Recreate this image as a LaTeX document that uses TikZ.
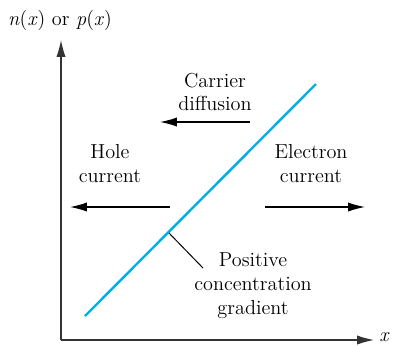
\documentclass[tikz,border=0pt]{standalone}
\usetikzlibrary{arrows.meta}
\definecolor{linecyan}{RGB}{0,175,230}

\begin{document}
\begin{tikzpicture}[x=0.025cm, y=-0.025cm,
          txt/.style={align=center, font=\fontsize{14.4}{17}\selectfont},
          arr/.style={-{Latex[length=12pt, width=6.5pt]}, line width=0.85pt},
        ]
          \useasboundingbox (0,0) rectangle (394,345);
          % axes
          \coordinate (o) at (61,340);
          \coordinate (ytop) at (61,40);
          \coordinate (xend) at (374,340);
          \draw[arr, black!80] (o)--(ytop);
          \draw[arr, black!80] (o)--(xend);
          \node[txt, anchor=west, inner sep=0pt] (xl) at (379,337) {\textit{x}};
          \node[txt] (yl) at (60,20) {\textit{n}(\textit{x}) or \textit{p}(\textit{x})};
          % concentration line
          \coordinate (lo) at (85,316);
          \coordinate (hi) at (316,84);
          \draw[linecyan, line width=1.7pt] (lo)--(hi);
          % currents
          \node[txt] (cd) at (215,92) {Carrier\\diffusion};
          \coordinate (cda) at (250,122);
          \coordinate (cdb) at (160,122);
          \draw[arr] (cda)--(cdb);
          \node[txt] (hc) at (110,164) {Hole\\current};
          \coordinate (hca) at (170,207);
          \coordinate (hcb) at (70,207);
          \draw[arr] (hca)--(hcb);
          \node[txt] (ec) at (311,164) {Electron\\current};
          \coordinate (eca) at (265,207);
          \coordinate (ecb) at (365,207);
          \draw[arr] (eca)--(ecb);
          % gradient label
          \node[txt] (pg) at (253,286) {Positive\\concentration\\gradient};
          \coordinate (pt) at (169,233);
          \draw[line width=0.7pt] (pt)--(203,268);
        \end{tikzpicture}
\end{document}
